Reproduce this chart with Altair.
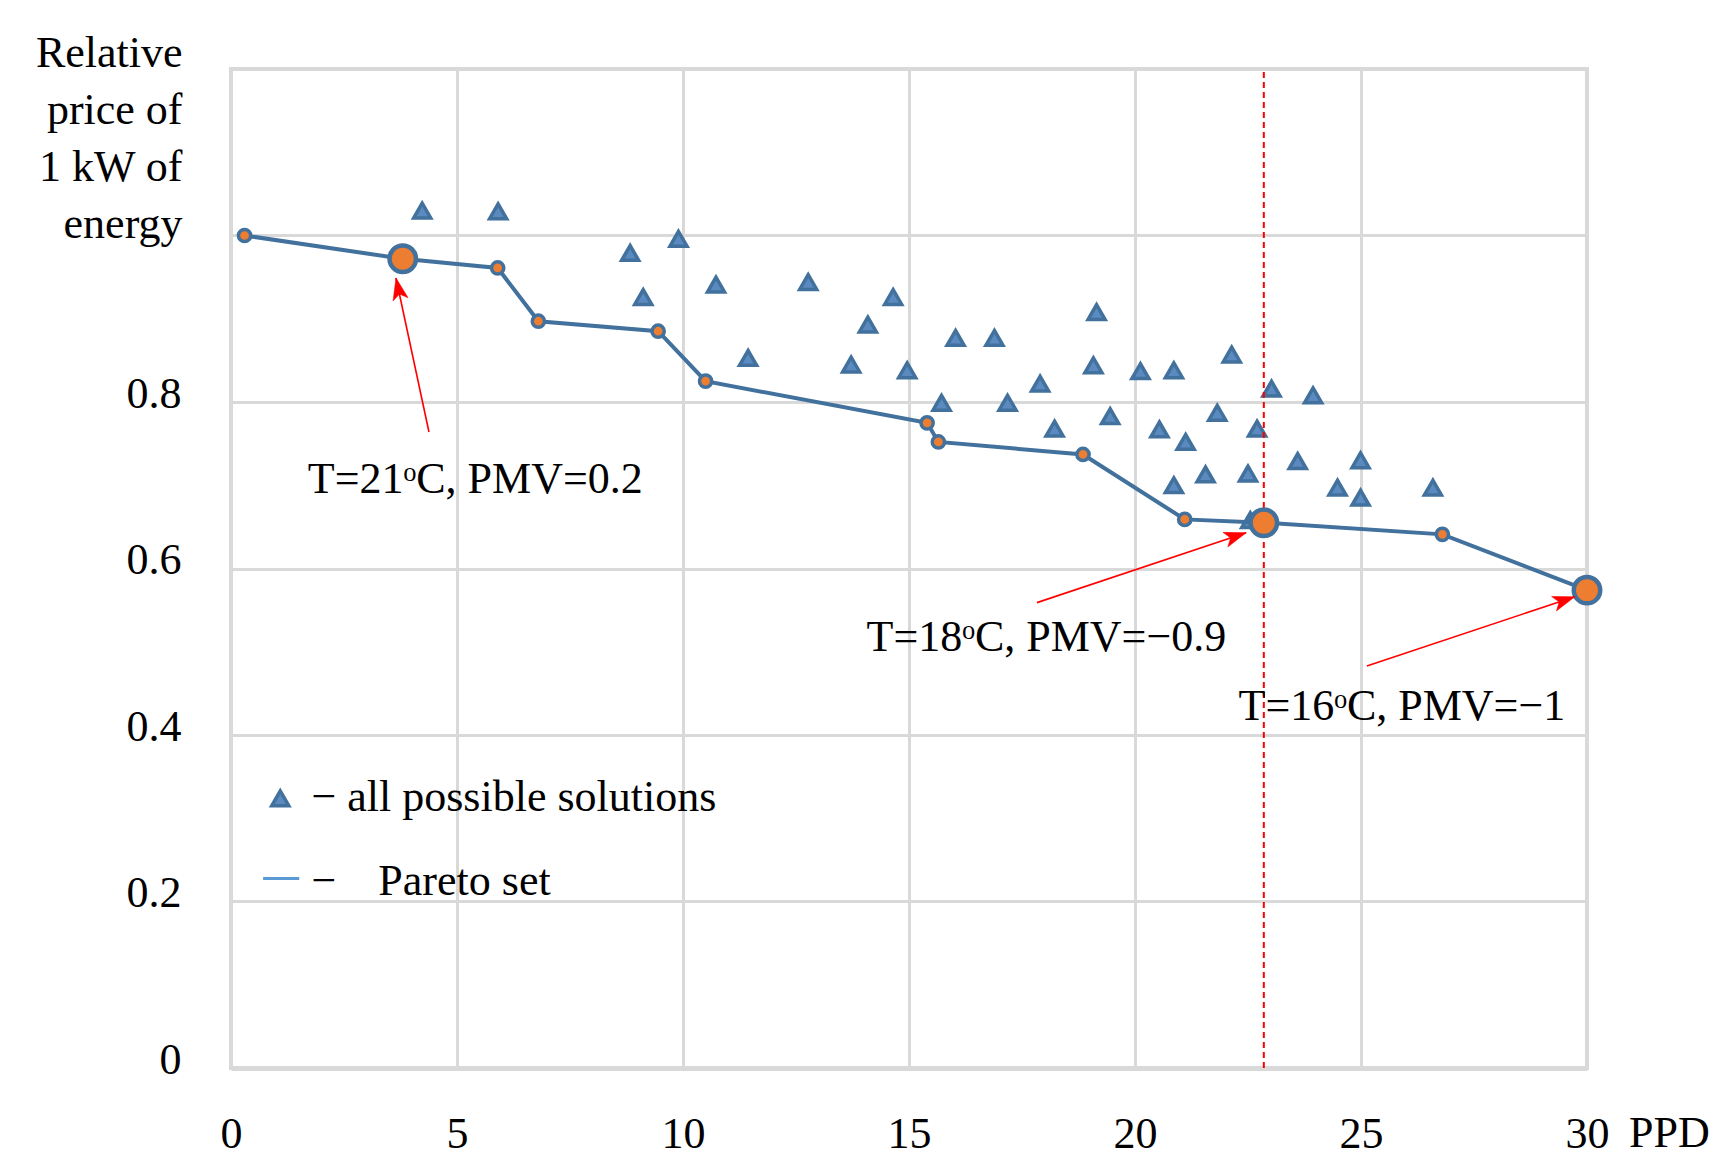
import math
import altair as alt
import pandas as pd

# ---------------- data ----------------
# Pareto set (PPD, relative price)
pareto_ppd = [0.3, 3.8, 5.9, 6.8, 9.45, 10.5, 15.4, 15.65, 18.85, 21.1, 22.85, 26.8, 30.0]
pareto_price = [1.0, 0.972, 0.961, 0.897, 0.885, 0.825, 0.775, 0.752, 0.737, 0.659, 0.655, 0.641, 0.574]
pareto_highlight = [False, True, False, False, False, False, False, False, False, False, True, False, True]

# all possible solutions
sol_ppd = [4.23, 5.91, 8.83, 9.9, 9.12, 10.73, 11.44, 12.77, 13.72, 14.09, 14.65, 14.96,
           15.72, 16.03, 16.89, 17.18, 17.9, 18.22, 19.08, 19.15, 19.45, 20.12, 20.54,
           20.86, 20.86, 21.12, 21.56, 21.82, 22.14, 22.5, 22.7, 22.55, 23.02, 23.6,
           23.94, 24.48, 24.99, 24.99, 26.59]
sol_price = [1.03, 1.029, 0.979, 0.996, 0.926, 0.941, 0.853, 0.944, 0.845, 0.893, 0.926, 0.838,
             0.799, 0.877, 0.877, 0.799, 0.822, 0.768, 0.844, 0.908, 0.783, 0.837, 0.767,
             0.838, 0.70, 0.752, 0.713, 0.787, 0.857, 0.714, 0.768, 0.658, 0.816, 0.729,
             0.808, 0.697, 0.73, 0.685, 0.697]

limit_ppd = [22.85]

x_ticks = [0, 5, 10, 15, 20, 25, 30]
y_ticks = [0, 0.2, 0.4, 0.6, 0.8, 1.0, 1.2]

ann_labels = ["T=21ᵒC, PMV=0.2", "T=18ᵒC, PMV=−0.9", "T=16ᵒC, PMV=−1"]
ann_text_ppd = [1.70, 14.06, 22.29]
ann_text_price = [0.706, 0.517, 0.434]
arrow_from_ppd = [4.38, 17.83, 25.13]
arrow_from_price = [0.764, 0.559, 0.483]
arrow_to_ppd = [3.65, 22.46, 29.73]
arrow_to_price = [0.949, 0.643, 0.566]

legend_labels = ["− all possible solutions", "−", "Pareto set"]
legend_label_ppd = [1.78, 1.78, 3.26]
legend_label_price = [0.324, 0.2235, 0.2235]
legend_tri_ppd = [1.09]
legend_tri_price = [0.324]
legend_line_ppd = [0.71, 1.51]
legend_line_price = [0.2275, 0.2275]

# ---------------- layout / style ----------------
W, H = 1356, 999
XMAX, YMAX = 30, 1.2
FONT = "Liberation Serif"
FS = 44
GRID = "#d9d9d9"
BLUE = "#41719c"
ORANGE = "#ed7d31"
XLAB_OFF = 66

xs = alt.Scale(domain=[0, XMAX], nice=False, zero=False)
ys = alt.Scale(domain=[0, YMAX], nice=False, zero=False)

x_axis = alt.Axis(values=x_ticks, title=None, grid=True, ticks=False, tickSize=0,
                  labelPadding=XLAB_OFF, labelBaseline="middle", labelFlush=False,
                  labelOverlap=False, labelFont=FONT, labelFontSize=FS, labelColor="black",
                  domainColor=GRID, domainWidth=5)
y_axis = alt.Axis(values=y_ticks, title=["Relative", "price of", "1 kW of", "energy"],
                  grid=True, ticks=False, tickSize=0, domain=False,
                  labelPadding=50, labelBaseline="middle", labelOffset=-8,
                  labelOverlap=False, labelFlush=False,
                  labelExpr="datum.value > 0.85 ? '' : format(datum.value, '.1~f')",
                  labelFont=FONT, labelFontSize=FS, labelColor="black",
                  titleAngle=0, titleAlign="right", titleBaseline="alphabetic",
                  titleX=-49, titleY=-3, titleLineHeight=57, titleFont=FONT,
                  titleFontSize=FS, titleFontWeight="normal", titleColor="black")


def X(f):
    return alt.X(f, type="quantitative", scale=xs, axis=x_axis)


def Y(f):
    return alt.Y(f, type="quantitative", scale=ys, axis=y_axis)


pareto_df = pd.DataFrame({"ppd": pareto_ppd, "price": pareto_price, "big": pareto_highlight})
sol_df = pd.DataFrame({"ppd": sol_ppd, "price": sol_price})
limit_df = pd.DataFrame({"ppd": limit_ppd, "y0": [0.0], "y1": [YMAX]})

sx, sy = W / XMAX, H / YMAX
angles = []
for a, b, c, d in zip(arrow_from_ppd, arrow_from_price, arrow_to_ppd, arrow_to_price):
    dx = (c - a) * sx
    dy = -(d - b) * sy
    angles.append(math.degrees(math.atan2(dx, -dy)) % 360)
arrow_df = pd.DataFrame({"x1": arrow_from_ppd, "y1": arrow_from_price,
                         "x2": arrow_to_ppd, "y2": arrow_to_price, "ang": angles})
ann_df = pd.DataFrame({"ppd": ann_text_ppd, "price": ann_text_price, "label": ann_labels})
leg_text_df = pd.DataFrame({"ppd": legend_label_ppd, "price": legend_label_price,
                            "label": legend_labels})
leg_tri_df = pd.DataFrame({"ppd": legend_tri_ppd, "price": legend_tri_price})
leg_line_df = pd.DataFrame({"ppd": legend_line_ppd, "price": legend_line_price})
ppd_df = pd.DataFrame({"ppd": [XMAX], "price": [0.0], "label": ["PPD"]})

tri_style = dict(shape="triangle-up", filled=True, fill="#5a8ac0", stroke=BLUE,
                 strokeWidth=3.5, size=290, opacity=1)

triangles = alt.Chart(sol_df).mark_point(**tri_style).encode(x=X("ppd"), y=Y("price"))

limit_rule = alt.Chart(limit_df).mark_rule(color="#ff0000", strokeWidth=2,
                                           strokeDash=[6, 4]).encode(
    x=X("ppd"), y=Y("y0"), y2="y1")

pareto_line = alt.Chart(pareto_df).mark_line(color=BLUE, strokeWidth=4,
                                             interpolate="linear").encode(
    x=X("ppd"), y=Y("price"), order="ppd")

small_pts = alt.Chart(pareto_df).transform_filter("!datum.big").mark_point(
    shape="circle", filled=True, fill=ORANGE, stroke=BLUE, strokeWidth=3.5,
    size=150, opacity=1).encode(x=X("ppd"), y=Y("price"))

big_pts = alt.Chart(pareto_df).transform_filter("datum.big").mark_point(
    shape="circle", filled=True, fill=ORANGE, stroke=BLUE, strokeWidth=4.5,
    size=700, opacity=1).encode(x=X("ppd"), y=Y("price"))

arrow_lines = alt.Chart(arrow_df).mark_rule(color="#ff0000", strokeWidth=1.6).encode(
    x=X("x1"), y=Y("y1"), x2="x2", y2="y2")

arrow_heads = alt.Chart(arrow_df).mark_point(
    shape="M0,0L0.7,2L0,1.5L-0.7,2Z", filled=True, fill="#ff0000", stroke="#ff0000",
    strokeWidth=0.5, size=480, opacity=1).encode(
    x=X("x2"), y=Y("y2"), angle=alt.Angle("ang:Q", scale=None))

ann_text = alt.Chart(ann_df).mark_text(align="left", baseline="middle", font=FONT,
                                       fontSize=FS, color="black").encode(
    x=X("ppd"), y=Y("price"), text="label:N")

leg_tri = alt.Chart(leg_tri_df).mark_point(**tri_style).encode(x=X("ppd"), y=Y("price"))

leg_line = alt.Chart(leg_line_df).mark_line(color="#5b9bd5", strokeWidth=3).encode(
    x=X("ppd"), y=Y("price"))

leg_text = alt.Chart(leg_text_df).mark_text(align="left", baseline="middle", font=FONT,
                                            fontSize=FS, color="black").encode(
    x=X("ppd"), y=Y("price"), text="label:N")

ppd_text = alt.Chart(ppd_df).mark_text(align="left", baseline="middle", font=FONT,
                                       fontSize=FS, color="black", dx=42,
                                       dy=XLAB_OFF).encode(
    x=X("ppd"), y=Y("price"), text="label:N")

chart = alt.layer(
    triangles, limit_rule, pareto_line, small_pts, big_pts, arrow_lines, arrow_heads,
    ann_text, leg_tri, leg_line, leg_text, ppd_text
).properties(
    width=W, height=H,
    padding={"left": 223, "top": 61, "right": 128, "bottom": 100},
    autosize=alt.AutoSizeParams(type="none"),
    background="white",
).configure_view(
    stroke=GRID, strokeWidth=4
).configure_axis(
    gridColor=GRID, gridWidth=3
)

chart.save("out.html", embed_options={"renderer": "svg", "actions": False})
